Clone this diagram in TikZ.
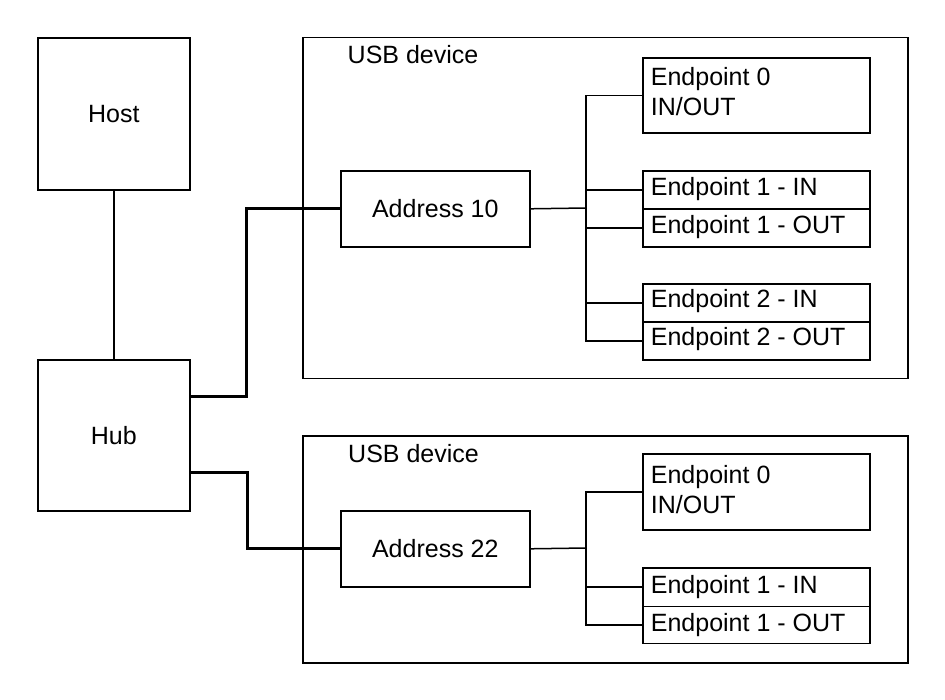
\documentclass[tikz,border=0pt]{standalone}
\usepackage{fontspec}
\setmainfont{Liberation Sans}
\begin{document}
\begin{tikzpicture}[x=1pt,y=-1pt,
  every node/.style={font=\fontsize{25}{30}\selectfont},
  box/.style={draw,line width=1.6pt,rectangle,inner sep=0pt,anchor=north west},
  epbox/.style={box,minimum width=227pt,minimum height=38pt},
  devbox/.style={draw,line width=1.5pt,rectangle,inner sep=0pt,anchor=north west,minimum width=605pt},
  link/.style={draw,line width=1.5pt},
  hublink/.style={draw,line width=3pt},
  lbl/.style={anchor=base west,inner sep=0pt}]
\useasboundingbox (0,0) rectangle (945,700);
% devices
\node[devbox,minimum height=341pt] (dev1) at (302,37) {};
\node[devbox,minimum height=227pt] (dev2) at (302,435) {};
\node[lbl] (dev1lbl) at (347.5,64) {USB device};
\node[lbl] (dev2lbl) at (348,462) {USB device};
% host and hub
\node[box,minimum width=152pt,minimum height=152pt] (host) at (37,37) {Host};
\node[box,minimum width=152pt,minimum height=151pt] (hub) at (37,359) {Hub};
% addresses
\node[box,minimum width=189pt,minimum height=76pt] (addr1) at (340,170) {Address 10};
\node[box,minimum width=189pt,minimum height=76pt] (addr2) at (340,510) {Address 22};
% endpoints device 1
\node[epbox,minimum height=75pt] (d1ep0) at (642,57) {};
\node[epbox] (d1ep1in) at (642,170) {};
\node[epbox] (d1ep1out) at (642,208) {};
\node[epbox] (d1ep2in) at (642,283) {};
\node[epbox] (d1ep2out) at (642,321) {};
\node[lbl] (t1a) at (650.7,86) {Endpoint 0};
\node[lbl] (t1b) at (650.7,116) {IN/OUT};
\node[lbl] (t1c) at (650.7,196) {Endpoint 1 - IN};
\node[lbl] (t1d) at (650.7,234) {Endpoint 1 - OUT};
\node[lbl] (t1e) at (650.7,308) {Endpoint 2 - IN};
\node[lbl] (t1f) at (650.7,346) {Endpoint 2 - OUT};
% endpoints device 2
\node[epbox,minimum height=76pt] (d2ep0) at (642,453) {};
\node[epbox,minimum height=38.5pt] (d2ep1in) at (642,567) {};
\node[epbox,minimum height=37pt] (d2ep1out) at (642,605.5) {};
\node[lbl] (t2a) at (650.7,483) {Endpoint 0};
\node[lbl] (t2b) at (650.7,513) {IN/OUT};
\node[lbl] (t2c) at (650.7,593) {Endpoint 1 - IN};
\node[lbl] (t2d) at (650.7,631) {Endpoint 1 - OUT};
% connectors
\draw[link] (host.south) -- (hub.north);
\draw[hublink] ([yshift=-38pt]hub.north east) -- ++(56,0) |- (addr1.west);
\draw[hublink] ([yshift=-113pt]hub.north east) -- ++(57,0) |- (addr2.west);
\coordinate (bus1) at (586,208);
\coordinate (bus2) at (586,548);
\draw[link] (addr1.east) -- (bus1);
\draw[link] (bus1) |- (d1ep0.west);
\draw[link] (bus1) |- (d1ep1in.west);
\draw[link] (bus1) |- (d1ep1out.west);
\draw[link] (bus1) |- (d1ep2in.west);
\draw[link] (bus1) |- (d1ep2out.west);
\draw[link] (addr2.east) -- (bus2);
\draw[link] (bus2) |- (d2ep0.west);
\draw[link] (bus2) |- (d2ep1in.west);
\draw[link] (bus2) |- (d2ep1out.west);
\end{tikzpicture}
\end{document}
